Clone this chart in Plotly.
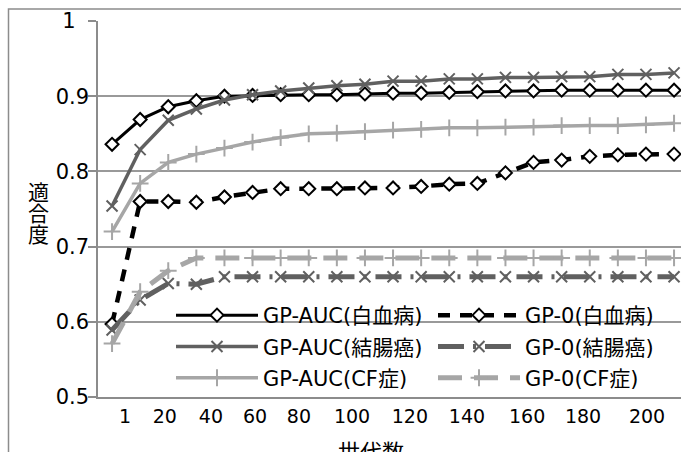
import plotly.graph_objects as go

# ---- data ----
generations = ["1", "10", "20", "30", "40", "50", "60", "70", "80", "90", "100",
               "110", "120", "130", "140", "150", "160", "170", "180", "190", "200"]

auc_leukemia = [0.836, 0.869, 0.886, 0.894, 0.900, 0.901, 0.902, 0.902, 0.902, 0.903, 0.904,
                0.904, 0.905, 0.906, 0.907, 0.907, 0.908, 0.908, 0.908, 0.908, 0.908]
auc_colon = [0.754, 0.829, 0.868, 0.883, 0.895, 0.902, 0.907, 0.911, 0.914, 0.916, 0.920,
             0.920, 0.923, 0.923, 0.925, 0.925, 0.926, 0.926, 0.929, 0.929, 0.931]
auc_cf = [0.720, 0.784, 0.812, 0.823, 0.831, 0.839, 0.845, 0.850, 0.851, 0.853, 0.855,
          0.856, 0.858, 0.858, 0.859, 0.859, 0.861, 0.861, 0.861, 0.862, 0.864]
gp0_leukemia = [0.597, 0.760, 0.760, 0.759, 0.766, 0.772, 0.777, 0.777, 0.777, 0.778, 0.778,
                0.780, 0.783, 0.784, 0.798, 0.812, 0.815, 0.820, 0.822, 0.823, 0.823]
gp0_colon = [0.589, 0.629, 0.651, 0.650, 0.660, 0.660, 0.660, 0.660, 0.660, 0.660, 0.660,
             0.660, 0.660, 0.660, 0.660, 0.660, 0.660, 0.660, 0.660, 0.660, 0.660]
gp0_cf = [0.571, 0.640, 0.668, 0.685, 0.685, 0.685, 0.685, 0.685, 0.685, 0.685, 0.685,
          0.685, 0.685, 0.685, 0.685, 0.685, 0.685, 0.685, 0.685, 0.685, 0.685]

# axis tick labels shown under the chart and where they sit (in category-index units)
x_tick_labels = ["1", "20", "40", "60", "80", "100", "120", "140", "160", "180", "200"]
x_tick_positions = [0.46, 1.88, 3.52, 5.09, 6.65, 8.54, 10.60, 12.63, 14.77, 16.76, 19.04]

y_tick_values = [0.5, 0.6, 0.7, 0.8, 0.9, 1.0]
y_tick_labels = ["0.5", "0.6", "0.7", "0.8", "0.9", "1\u00a0\u00a0"]

y_title = "適合度"
x_title = "世代数"

BLACK = "#000000"
DARK = "#606060"
LIGHT = "#a6a6a6"
FONT = "DejaVu Sans, Noto Sans CJK JP"

fig = go.Figure()

def add(name, ys, color, width, dash, symbol, msize, mcolor, mline, legend):
    fig.add_trace(go.Scatter(
        x=generations, y=ys, name=name, mode="lines+markers",
        line=dict(color=color, width=width, dash=dash),
        marker=dict(symbol=symbol, size=msize, color=mcolor,
                    line=dict(color=color, width=mline)),
        legend=legend, legendgroup=name,
    ))

add("GP-AUC(白血病)", auc_leukemia, BLACK, 3, "solid", "diamond", 10, "white", 2, "legend")
add("GP-AUC(結腸癌)", auc_colon, DARK, 3.5, "solid", "x-thin", 11, DARK, 2, "legend")
add("GP-AUC(CF症)", auc_cf, LIGHT, 3.5, "solid", "cross-thin", 12, LIGHT, 2, "legend")
add("GP-0(白血病)", gp0_leukemia, BLACK, 4.5, "12px,10px", "diamond", 10, "white", 2, "legend2")
add("GP-0(結腸癌)", gp0_colon, DARK, 5, "26px,9px,3px,9px", "x-thin", 11, DARK, 2, "legend2")
add("GP-0(CF症)", gp0_cf, LIGHT, 5, "24px,12px", "cross-thin", 12, LIGHT, 2, "legend2")

# empty carrier so the label axis (x2) is drawn
fig.add_trace(go.Scatter(x=[None], y=[None], xaxis="x2", yaxis="y",
                         showlegend=False, hoverinfo="skip", mode="markers"))

W, H = 681, 452
L, R, T, B = 98, 0, 21, 55
pw, ph = W - L - R, H - T - B

def px_x(p):
    return (p - L) / pw

def px_y(p):
    return (H - B - p) / ph

xr = [-0.5, -0.5 + pw / 28.1]
legend_font = dict(family=FONT, size=21, color="black")

fig.update_layout(
    width=W, height=H,
    margin=dict(l=L, r=R, t=T, b=B, autoexpand=False),
    paper_bgcolor="white", plot_bgcolor="white",
    font=dict(family=FONT, size=19, color="black"),
    xaxis=dict(type="category", range=xr, showticklabels=False, ticks="",
               showgrid=False, showline=True, linecolor="#8c8c8c", linewidth=1.5,
               zeroline=False, automargin=False),
    xaxis2=dict(overlaying="x", anchor="y", side="bottom", range=xr,
                tickmode="array", tickvals=x_tick_positions, ticktext=x_tick_labels,
                ticks="outside", ticklen=2, tickcolor="rgba(0,0,0,0)",
                showgrid=False, showline=False, zeroline=False, automargin=False,
                tickfont=dict(family=FONT, size=19, color="black")),
    yaxis=dict(range=[0.5, 1.0], tickmode="array", tickvals=y_tick_values,
               ticktext=y_tick_labels, showgrid=True,
               gridcolor="#999999", gridwidth=1.5, showline=True,
               linecolor="#8c8c8c", linewidth=1.5, ticks="outside", ticklen=8,
               tickcolor="#8c8c8c", tickwidth=1.5, zeroline=False, automargin=False,
               ticklabelstandoff=-5,
               tickfont=dict(family=FONT, size=21, color="black")),
    legend=dict(x=px_x(171), y=px_y(295), xanchor="left", yanchor="top",
                bgcolor="rgba(0,0,0,0)", font=legend_font, itemwidth=82,
                tracegroupgap=1, traceorder="grouped"),
    legend2=dict(x=px_x(433), y=px_y(295), xanchor="left", yanchor="top",
                 bgcolor="rgba(0,0,0,0)", font=legend_font, itemwidth=82,
                 tracegroupgap=1, traceorder="grouped"),
    showlegend=True,
)

# outer chart border (only left and top visible in the frame)
fig.add_shape(type="rect", xref="paper", yref="paper",
              x0=px_x(8.5), y0=px_y(470), x1=px_x(700), y1=px_y(9),
              line=dict(color="#8c8c8c", width=1.5), layer="below")

# vertical y-axis title, stacked characters
for i, ch in enumerate(y_title):
    fig.add_annotation(text=ch, xref="paper", yref="paper",
                       x=px_x(38), y=px_y(191 + 21 * i), showarrow=False,
                       xanchor="center", yanchor="middle",
                       font=dict(family="Noto Sans CJK JP", size=21, color="black"))

fig.add_annotation(text=x_title, xref="paper", yref="paper",
                   x=px_x(371), y=px_y(450), showarrow=False,
                   xanchor="center", yanchor="middle",
                   font=dict(family="Noto Sans CJK JP", size=22, color="black"))

fig.write_html("out.html",
               config={"displayModeBar": False},
               post_script="document.body.style.margin='0';"
                           "document.body.style.overflow='hidden';")
